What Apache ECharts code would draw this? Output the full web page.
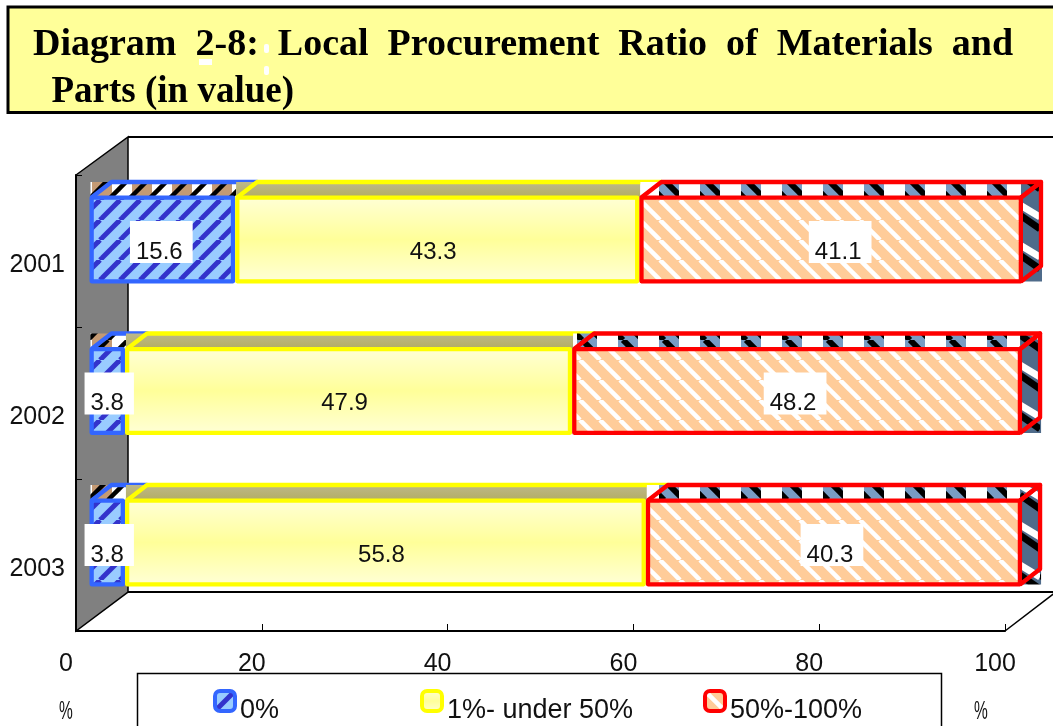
<!DOCTYPE html>
<html>
<head>
<meta charset="utf-8">
<script src="https://cdn.jsdelivr.net/npm/echarts@6/dist/echarts.min.js"></script>
<style>html,body{margin:0;padding:0;background:#fff;overflow:hidden}#c{width:1053px;height:726px}</style>
</head>
<body>
<div id="c"></div>
<script>
const years = ['2001', '2002', '2003'];
const seriesNames = ['0%', '1%- under 50%', '50%-100%'];
const zeroShare = [15.6, 3.8, 3.8];
const lowShare = [43.3, 47.9, 55.8];
const highShare = [41.1, 48.2, 40.3];
const axisTicks = [0, 20, 40, 60, 80, 100];
const GAP = '\u00a0\u00a0';
const titleLine1 = ['Diagram', '2-8:', 'Local', 'Procurement', 'Ratio', 'of', 'Materials', 'and'].join(GAP);
const titleLine2 = '\u00a0\u00a0Parts (in value)';

function tile(w, h, draw) {
  const c = document.createElement('canvas');
  c.width = w; c.height = h;
  const g = c.getContext('2d');
  draw(g, w, h);
  return { image: c, repeat: 'repeat' };
}
function diag(g, w, h, dir, lw, color) {
  g.strokeStyle = color; g.lineWidth = lw;
  for (let k = -2; k <= 2; k++) {
    const ox = k * h;
    g.beginPath();
    if (dir > 0) { g.moveTo(ox, h); g.lineTo(ox + h, 0); }
    else { g.moveTo(ox, 0); g.lineTo(ox + h, h); }
    g.stroke();
  }
}
const blueFront = tile(20, 20, (g, w, h) => { g.fillStyle = '#99ccff'; g.fillRect(0, 0, w, h); diag(g, w, h, 1, 5, '#3333cc'); });
const orangeFront = tile(20, 20, (g, w, h) => { g.fillStyle = '#ffcc99'; g.fillRect(0, 0, w, h); diag(g, w, h, -1, 4.5, '#ffffff'); });
const blueTop = tile(40, 20, (g, w, h) => {
  g.fillStyle = '#ffffff'; g.fillRect(0, 0, w, h);
  g.fillStyle = '#c49a74'; g.fillRect(12, 0, 20, h);
  g.strokeStyle = '#000'; g.lineWidth = 4.5;
  for (let k = -3; k <= 3; k++) { g.beginPath(); g.moveTo(k * 20 - 12, h); g.lineTo(k * 20 - 12 + h, 0); g.stroke(); }
});
const redTop = tile(41, 20, (g, w, h) => {
  g.fillStyle = '#ffffff'; g.fillRect(0, 0, w, h);
  g.fillStyle = '#789cc4'; g.fillRect(3, 0, 20, h);
  g.save(); g.beginPath(); g.rect(3, 0, 20, h); g.clip();
  g.strokeStyle = '#000'; g.lineWidth = 6;
  for (let k = -1; k <= 1; k++) { g.beginPath(); g.moveTo(k * 20 + 8, 0); g.lineTo(k * 20 + 28, h); g.stroke(); }
  g.restore();
});
const redSide = tile(20, 40, (g, w, h) => {
  g.fillStyle = '#4f6b8a'; g.fillRect(0, 0, w, h);
  g.lineWidth = 7;
  g.strokeStyle = '#ffffff';
  g.beginPath(); g.moveTo(0, 5); g.lineTo(20, 17); g.stroke();
  g.strokeStyle = '#000000';
  g.beginPath(); g.moveTo(0, 15); g.lineTo(20, 29); g.stroke();
});
const yellowFront = { type: 'linear', x: 0, y: 0, x2: 0, y2: 1, colorStops: [
  { offset: 0, color: '#ffffd8' }, { offset: 0.5, color: '#ffff99' }, { offset: 1, color: '#ffffd8' }] };
const oliveTop = { type: 'linear', x: 0, y: 0, x2: 0, y2: 1, colorStops: [
  { offset: 0, color: '#bdb88a' }, { offset: 1, color: '#b3ad62' }] };

const edgeColors = ['#3366ff', '#ffff00', '#ff0000'];
const frontFills = [blueFront, yellowFront, orangeFront];
const topFills = [blueTop, oliveTop, redTop];
const shares = [zeroShare, lowShare, highShare];
const DX = 20, DY = 15.5, HALF = 42;

function faces(level) {
  return function (params, api) {
    const a = api.coord([api.value(0), api.value(2)]);
    const b = api.coord([api.value(1), api.value(2)]);
    const x0 = a[0] + 2, x1 = level === 2 ? b[0] - 2 : b[0] + 2, yTop = a[1] - HALF, yBot = a[1] + HALF;
    const lineStyle = { fill: 'none', stroke: edgeColors[level], lineWidth: 4.3, lineJoin: 'round' };
    const kids = [
      { type: 'rect', shape: { x: x0 - 1, y: yTop - DY, width: x1 - x0, height: DY }, style: { fill: topFills[level] } }
    ];
    if (level === 2) {
      kids.push({ type: 'rect', shape: { x: x1, y: yTop - DY, width: DX + 1, height: 2 * HALF + DY }, style: { fill: redSide } });
      kids.push({ type: 'polyline', shape: { points: [[x1, yTop], [x1 + DX, yTop - DY], [x1 + DX, yBot - DY], [x1, yBot]] }, style: lineStyle });
    }
    kids.push({ type: 'polyline', shape: { points: [[x0, yTop], [x0 + DX, yTop - DY], [x1 + DX, yTop - DY], [x1, yTop]] }, style: lineStyle });
    return { type: 'group', children: kids };
  };
}

function labelShift(level, i) {
  if (level === 2 && i === 0) return [9, 2.5];
  if (level === 0) return [i === 0 ? -1 : 2, 2.5];
  return [-2, 2.5];
}

let running = years.map(() => 0);
const faceSeries = [], barSeries = [];
shares.forEach((vals, level) => {
  const spans = vals.map((v, i) => { const s = running[i]; running[i] = s + v; return [s, s + v, i]; });
  faceSeries.push({
    type: 'custom', name: 'depth' + level, xAxisIndex: 0, yAxisIndex: 0, silent: true, clip: false, z: 1,
    data: spans, encode: { x: [0, 1], y: 2 }, renderItem: faces(level)
  });
  barSeries.push({
    type: 'bar', name: seriesNames[level], stack: 'share', xAxisIndex: 0, yAxisIndex: 0, barWidth: 88, z: 2, silent: true,
    itemStyle: { color: frontFills[level], borderColor: edgeColors[level], borderWidth: 4.3, borderJoin: 'round' },
    data: vals.map((v, i) => ({
      value: v,
      label: { offset: labelShift(level, i) }
    })),
    label: {
      show: true, position: 'inside', padding: [0, 10, 0, 6], backgroundColor: level === 1 ? 'transparent' : '#ffffff',
      formatter: p => '{v|' + p.value.toFixed(1) + '}',
      rich: { v: { color: '#111', fontSize: 24, fontFamily: 'Liberation Sans', lineHeight: 42, padding: [20, 0, 0, 0] } }
    }
  });
});

function legendAt(name, left) {
  return {
    data: [name], left: left, top: 677.5, icon: 'roundRect', itemWidth: 20, itemHeight: 20, itemGap: 0,
    selectedMode: false, padding: 0, z: 4,
    itemStyle: { borderWidth: 4 },
    formatter: n => '{t|' + n + '}',
    textStyle: {
      rich: {
        t: { fontSize: 27, color: '#111', fontFamily: 'Liberation Sans', lineHeight: 26, padding: [20, 0, 0, 0] }
      }
    }
  };
}

const black = { stroke: '#000', fill: 'none', lineWidth: 2 };
const option = {
  animation: false,
  backgroundColor: '#ffffff',
  textStyle: { fontFamily: 'Liberation Sans' },
  title: {
    text: '{a|' + titleLine1 + '}\n{b|' + titleLine2 + '}', left: 33, top: 22, padding: 0, z: 6,
    textStyle: {
      rich: {
        a: { fontFamily: 'Liberation Serif', fontWeight: 'bold', fontSize: 38, lineHeight: 47, color: '#000' },
        b: { fontFamily: 'Liberation Serif', fontWeight: 'bold', fontSize: 37, lineHeight: 47, color: '#000' }
      }
    }
  },
  legend: [legendAt(seriesNames[0], 213), legendAt(seriesNames[1], 420), legendAt(seriesNames[2], 703)],
  grid: [
    { left: 89.5, top: 163.75, width: 933.5, height: 454.5, show: false },
    { left: 76, top: 175, width: 929, height: 456, show: false }
  ],
  xAxis: [
    { type: 'value', gridIndex: 0, min: 0, max: 100, show: false },
    { type: 'value', gridIndex: 1, min: 0, max: 100, interval: 20, position: 'bottom',
      axisLine: { show: true, lineStyle: { color: '#000', width: 2 } },
      axisTick: { show: true, inside: true, length: 7, lineStyle: { color: '#000', width: 1 } },
      splitLine: { show: false },
      axisLabel: { margin: 21, fontSize: 25, color: '#111', fontFamily: 'Liberation Sans', padding: [0, 20, 0, 0], showMinLabel: true, showMaxLabel: true,
        customValues: axisTicks } }
  ],
  yAxis: [
    { type: 'category', gridIndex: 0, data: years, inverse: true, show: false },
    { type: 'category', gridIndex: 1, data: years, inverse: true,
      axisLine: { show: true, lineStyle: { color: '#000', width: 2 } },
      axisTick: { show: true, inside: true, length: 6, lineStyle: { color: '#000', width: 1 } },
      splitLine: { show: false },
      axisLabel: { margin: 11, formatter: v => '{v|' + v + '}',
        rich: { v: { fontSize: 25, color: '#111', fontFamily: 'Liberation Sans', lineHeight: 25, padding: [28, 0, 0, 0] } } } }
  ],
  graphic: [
    { type: 'rect', z: -1, shape: { x: 8, y: 7, width: 1060, height: 105.5 }, style: { fill: '#ffff99', stroke: '#000', lineWidth: 3 } },
    { type: 'rect', z: 7, shape: { x: 199, y: 59, width: 13, height: 6 }, style: { fill: '#fff' } },
    { type: 'rect', z: 7, shape: { x: 264, y: 44, width: 5, height: 9, r: 2 }, style: { fill: '#fff' } },
    { type: 'rect', z: 7, shape: { x: 264, y: 66, width: 5, height: 9, r: 2 }, style: { fill: '#fff' } },
    { type: 'polygon', z: -1, shape: { points: [[76, 175], [128, 137], [128, 592], [76, 631]] }, style: { fill: '#808080', stroke: '#000', lineWidth: 1.5 } },
    { type: 'polyline', z: -1, shape: { points: [[128, 137], [1060, 137]] }, style: black },
    { type: 'polyline', z: -1, shape: { points: [[128, 592], [1060, 592]] }, style: black },
    { type: 'polyline', z: -1, shape: { points: [[1005, 631], [1056, 592]] }, style: { stroke: '#000', fill: 'none', lineWidth: 1.5 } },
    { type: 'rect', z: -1, shape: { x: 137.5, y: 673.5, width: 804, height: 70 }, style: { fill: '#fff', stroke: '#000', lineWidth: 1.5 } },
    { type: 'text', z: 5, x: 66, y: 712, scaleX: 0.62, style: { text: '%', fontSize: 25, fontFamily: 'Liberation Sans', fill: '#111', align: 'center', verticalAlign: 'middle' } },
    { type: 'text', z: 5, x: 981, y: 712, scaleX: 0.62, style: { text: '%', fontSize: 25, fontFamily: 'Liberation Sans', fill: '#111', align: 'center', verticalAlign: 'middle' } }
  ],
  series: faceSeries.concat(barSeries)
};
echarts.init(document.getElementById('c'), null, { renderer: 'canvas' }).setOption(option);
</script>
</body>
</html>
